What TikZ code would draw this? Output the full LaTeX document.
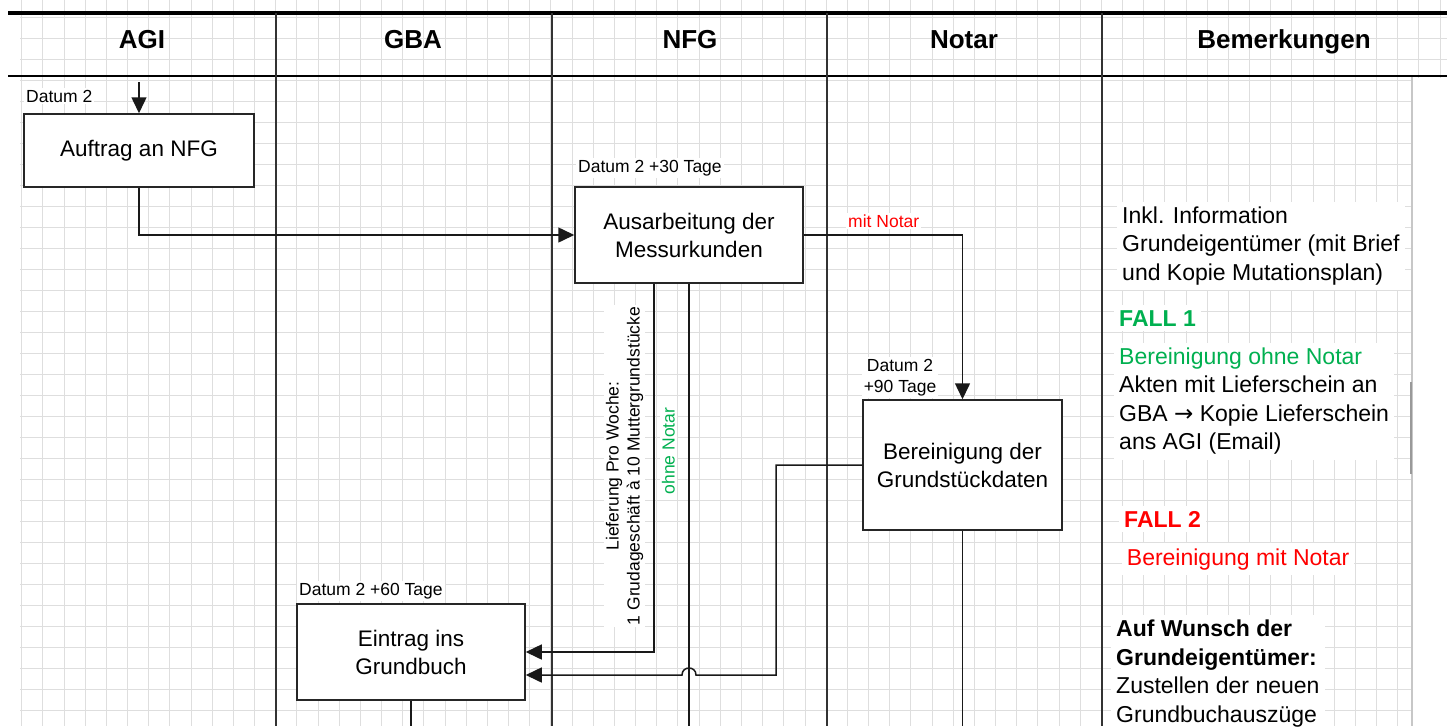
\documentclass[tikz,border=0pt]{standalone}
\usepackage{fontspec}
\setmainfont{Liberation Sans}
\newfontfamily\arrowfont{DejaVu Sans}
\usepackage{tikz}
\usetikzlibrary{arrows.meta,calc}

\definecolor{gridgray}{RGB}{222,222,222}
\definecolor{fallgreen}{RGB}{0,176,80}

\begin{document}
\begin{tikzpicture}
  [x=1pt,y=-1pt,every node/.style={inner sep=0pt},
   taskbox/.style={draw=black!85,line width=1.5pt,fill=white,align=center,
     font=\fontsize{22.5}{28}\selectfont},
   datelbl/.style={fill=white,inner sep=2pt,font=\fontsize{17.5}{21}\selectfont},
   notetxt/.style={fill=white,inner sep=5pt,align=left,
     font=\fontsize{23}{28.5}\selectfont},
   lanehead/.style={anchor=base,font=\fontsize{26}{30}\selectfont\bfseries},
   flowline/.style={draw=black!90,line width=1.5pt},
   flowarrow/.style={flowline,-{Triangle[length=16pt,width=15pt]}}]
  \useasboundingbox (0,0) rectangle (1447,726);

  % grid
  \foreach \i in {0,...,67}
    \draw[gridgray,line width=1pt] ({21.7+21.17*\i},0) -- ({21.7+21.17*\i},726);
  \foreach \j in {0,...,33}
    \draw[gridgray,line width=1pt] (20,{17.7+21*\j}) -- (1447,{17.7+21*\j});
  \fill[white] (1412.6,77.5) rectangle (1447,726);
  \draw[black!22,line width=1.2pt] (1412,77) -- (1412,726);
  \draw[black!40,line width=1.2pt] (1411,382) -- (1411,474);

  % lanes
  \draw[line width=4pt] (8,13) -- (1447,13);
  \draw[line width=2.5pt] (8,76) -- (1447,76);
  \foreach \x in {276,552,827,1102}
    \draw[black!80,line width=2pt] (\x,13) -- (\x,726);

  \node [lanehead] (h1) at (142,48.5) {AGI};
  \node [lanehead] (h2) at (413,48.5) {GBA};
  \node [lanehead] (h3) at (690,48.5) {NFG};
  \node [lanehead] (h4) at (964,48.5) {Notar};
  \node [lanehead] (h5) at (1284,48.5) {Bemerkungen};

  % steps
  \node [taskbox,minimum width=230pt,minimum height=73pt] (agi1) at (139,150.5) {Auftrag an NFG};
  \node [taskbox,minimum width=228pt,minimum height=96pt] (nfg1) at (689,235) {Ausarbeitung der\\Messurkunden};
  \node [taskbox,minimum width=199pt,minimum height=130pt] (notar1) at (962.5,465) {Bereinigung der\\Grundstückdaten};
  \node [taskbox,minimum width=228pt,minimum height=96pt] (gba1) at (411,652) {Eintrag ins\\Grundbuch};

  \node [datelbl,anchor=base west] (d1) at (24,102) {Datum 2};
  \node [datelbl,anchor=base west] (d2) at (576,172.7) {Datum 2 +30 Tage};
  \node [datelbl,anchor=base west] (d3) at (297,595.7) {Datum 2 +60 Tage};
  \node [datelbl,align=center] (d4) at (900,377.7) {Datum 2\\+90 Tage};
  \node [datelbl,anchor=base west,text=red] (mit) at (846,227.3) {mit Notar};
  \node [datelbl,rotate=90,align=center] (lief) at (624.5,466) {Lieferung Pro Woche:\\1 Grudageschäft à 10 Muttergrundstücke};
  \node [datelbl,rotate=90,text=fallgreen] (ohne) at (668.3,451) {ohne Notar};

  % connectors
  \coordinate (start) at (139,82);
  \coordinate (bottom) at (689,726);
  \draw[flowarrow] (start) -- (agi1.north);
  \draw[flowarrow] (agi1.south) |- (nfg1.west);
  \draw[flowarrow] (nfg1.east) -| (notar1.north);
  \draw[flowarrow] ($(nfg1.south)+(-35,0)$) |- (gba1.east);
  \draw[flowline] (nfg1.south) -- (bottom);
  \draw[flowarrow] (notar1.west) -| (776,675) -- (696,675)
    .. controls (696,665.7) and (682,665.7) .. (682,675) -- ($(gba1.east)+(0,23)$);
  \draw[flowline] (notar1.south) -- (notar1.south |- bottom);
  \draw[flowline] (gba1.south) -- (gba1.south |- bottom);

  % remarks
  \node [notetxt,anchor=north west] (bem1) at (1117,201.5) {Inkl. Information\\Grundeigentümer (mit Brief\\und Kopie Mutationsplan)};
  \node [notetxt,anchor=base west,text=fallgreen,font=\fontsize{23}{28.5}\selectfont\bfseries] (fall1) at (1114,326) {FALL 1};
  \node [notetxt,anchor=north west] (bem2) at (1114,342.5) {\textcolor{fallgreen}{Bereinigung ohne Notar}\\Akten mit Lieferschein an\\GBA {\arrowfont →} Kopie Lieferschein\\ans AGI (Email)};
  \node [notetxt,anchor=base west,text=red,font=\fontsize{23}{28.5}\selectfont\bfseries] (fall2) at (1119,527.3) {FALL 2};
  \node [notetxt,anchor=base west,text=red] (bem3) at (1121.7,565) {Bereinigung mit Notar};
  \node [notetxt,anchor=north west] (bem4) at (1111,615) {\textbf{Auf Wunsch der}\\\textbf{Grundeigentümer:}\\Zustellen der neuen\\Grundbuchauszüge};

\end{tikzpicture}
\end{document}
